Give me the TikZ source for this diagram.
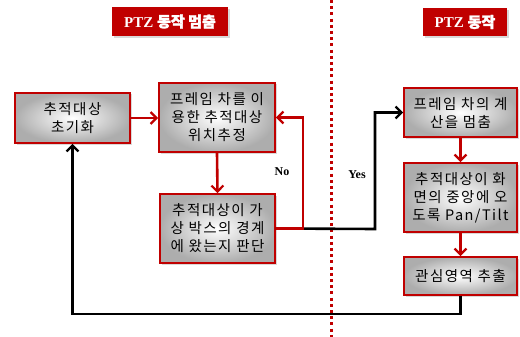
\documentclass[tikz,border=0pt]{standalone}
\usepackage{fontspec}
\setmainfont{Liberation Serif}
\newfontfamily\kr[LetterSpace=10]{Noto Sans CJK KR}
\newfontfamily\krhead[FakeBold=2]{Noto Sans CJK KR}
\usetikzlibrary{arrows.meta,shadows}
\definecolor{dred}{HTML}{C00000}
\tikzset{
  x=1pt, y=-1pt,
  box/.style={draw=dred, line width=1.8pt, rectangle, shading=radial,
    inner color=white, outer color=black!32, font=\kr\fontsize{14.5}{18}\selectfont,
    align=center, inner sep=0pt, drop shadow={shadow xshift=1.5pt, shadow yshift=-1.5pt, opacity=0.3}},
  head/.style={fill=dred, text=white, inner sep=0pt, font=\bfseries\fontsize{15}{17}\selectfont,
    drop shadow={shadow xshift=2pt, shadow yshift=-2pt, opacity=0.3}},
  rline/.style={draw=dred, line width=2.6pt, arrows={-Straight Barb[length=6pt,width=12pt,line width=2.2pt]}},
  bline/.style={draw=black, line width=2.6pt, arrows={-Straight Barb[length=6pt,width=12pt,line width=2.2pt]}},
  lab/.style={font=\bfseries\fontsize{12}{14}\selectfont}
}
\begin{document}
\begin{tikzpicture}
\useasboundingbox (0,0) rectangle (520,337);
% divider
\draw[dred, line width=3pt, dash pattern=on 3pt off 3.2pt] (331,0) -- (331,337);
% headers
\node[head, minimum width=116pt, minimum height=29pt] (h1) at (170,21.5) {PTZ {\krhead 동작 멈춤}};
\node[head, minimum width=84pt, minimum height=28pt] (h2) at (465,22) {PTZ {\krhead 동작}};
% boxes
\node[box, minimum width=115pt, minimum height=50pt] (A) at (72.5,118) {추적대상\\초기화};
\node[box, minimum width=116pt, minimum height=69pt] (B) at (217,117.5) {프레임 차를 이\\용한 추적대상\\위치추정};
\node[box, minimum width=115pt, minimum height=69pt] (C) at (217.5,228.5) {추적대상이 가\\상 박스의 경계\\에 왔는지 판단};
\node[box, minimum width=113pt, minimum height=49pt] (D) at (460.5,112.5) {프레임 차의 계\\산을 멈춤};
\node[box, minimum width=113pt, minimum height=69pt] (E) at (460.5,197.5) {추적대상이 화\\면의 중앙에 오\\도록 Pan/Tilt};
\node[box, minimum width=113pt, minimum height=38pt] (F) at (460.5,276) {관심영역 추출};
% connectors
\coordinate (ycorner) at (375,229);
\coordinate (ncorner) at (303,117.5);
\coordinate (loop) at (462,314);
\draw[bline] (C.east) -- (ycorner) |- (D.west);
\draw[rline] (C.east) -| (ncorner) -- (B.east);
\draw[rline] (A.east) -- (A.east -| B.west);
\draw[rline] (B.south) -- (C.north);
\draw[rline] (D.south) -- (E.north);
\draw[rline] (E.south) -- (F.north);
\draw[bline] (F.south) -- (F.south |- loop) -| (A.south);
% labels
\node[lab] (no) at (282,172) {No};
\node[lab] (yes) at (357,175) {Yes};
\end{tikzpicture}
\end{document}
